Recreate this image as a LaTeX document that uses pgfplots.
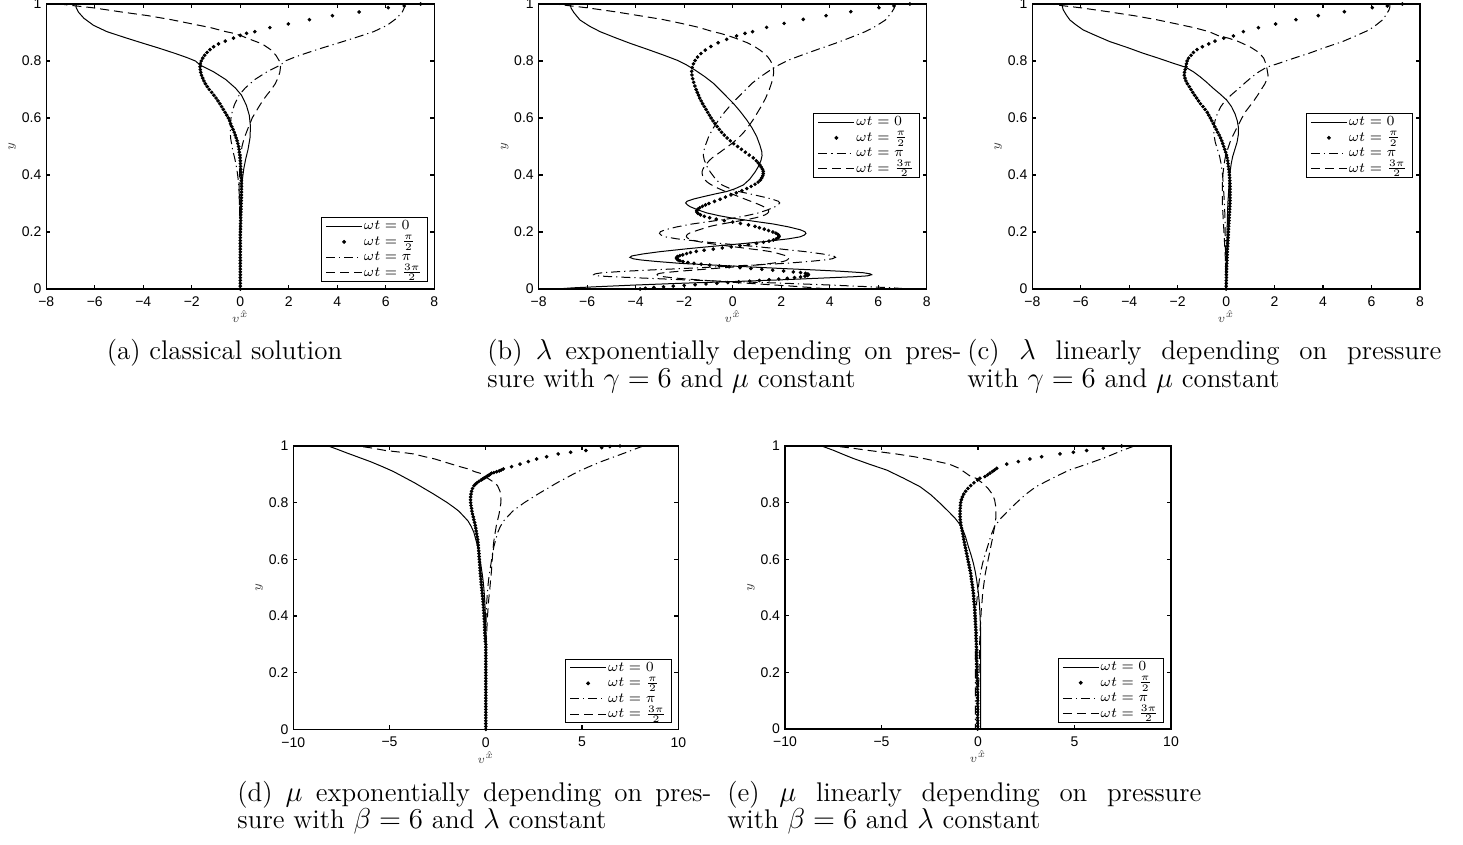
\documentclass[border=0pt]{standalone}
\usepackage{fontspec}
\usepackage{pgfplots}
\pgfplotsset{compat=1.18}
\newfontfamily\ticksf{Liberation Sans}
\newcommand\capfont{\fontsize{13.5}{13.5}\selectfont}

\pgfplotsset{
  panel/.style={
    scale only axis, clip=false, ymin=0, ymax=1,
    ytick={0,0.2,0.4,0.6,0.8,1}, yticklabels={0,0.2,0.4,0.6,0.8,1},
    tick align=inside, major tick length=2pt,
    axis line style={line width=0.6pt},
    every tick/.append style={line width=0.6pt, black},
    tick label style={font=\ticksf\fontsize{7}{7.5}\selectfont},
    xticklabel style={inner sep=0.8pt, yshift=-3pt},
    yticklabel style={inner sep=0.8pt, xshift=-1.5pt},
    xlabel={$v^{\hat{x}}$}, ylabel={$y$},
    label style={font=\fontsize{6.5}{7}\selectfont, text=black!75, inner sep=0pt},
    x label style={at={([yshift=-14pt]axis description cs:0.5,0)}, anchor=center},
    y label style={at={([xshift=-17pt]axis description cs:0,0.5)}, anchor=center},
    legend cell align=left,
    legend style={anchor=south east, draw=black, line width=0.5pt, fill=white,
      inner xsep=2pt, inner ysep=0.5pt, font=\fontsize{6.8}{7}\selectfont,
      nodes={inner sep=0.6pt, text height=5pt, text depth=1.5pt}, row sep=0pt,
      /tikz/every even column/.append style={column sep=2pt}},
    legend image code/.code={\draw[mark repeat=2,mark phase=2,##1] plot coordinates {(0pt,0pt) (9pt,0pt) (18pt,0pt)};},
    legend entries={$\omega t=0$,$\omega t=\frac{\pi}{2}$,$\omega t=\pi$,$\omega t=\frac{3\pi}{2}$},
  },
  span8/.style={xmin=-8, xmax=8, xtick={-8,-6,-4,-2,0,2,4,6,8}, xticklabels={−8,−6,−4,−2,0,2,4,6,8}},
  span10/.style={xmin=-10, xmax=10, xtick={-10,-5,0,5,10}, xticklabels={−10,−5,0,5,10}},
  curveA/.style={black, line width=0.5pt, solid, no markers},
  curveB/.style={black, only marks, mark=*, mark size=0.7pt, mark options={draw=none, fill=black}},
  curveC/.style={black, line width=0.5pt, no markers, dash pattern=on 4.5pt off 2pt on 0.6pt off 2pt},
  curveD/.style={black, line width=0.5pt, no markers, dash pattern=on 4.5pt off 2.5pt},
}

\begin{document}
\begin{tikzpicture}
\useasboundingbox (0,0) rectangle (731.5pt,-422.5pt);

% ---------------- (a) classical solution
\begin{axis}[panel, span8, at={(23.15pt,-2pt)}, anchor=north west,
  width=194pt, height=142.5pt, legend style={at={(0.983,0.025)}}]
\addplot[curveA] table {
x y
-6.75 1.000
-6.78 0.990
-6.68 0.972
-6.45 0.950
-6.05 0.925
-5.50 0.903
-4.75 0.882
-4.00 0.862
-3.35 0.845
-2.70 0.827
-2.20 0.812
-1.85 0.800
-1.66 0.786
-1.10 0.762
-0.60 0.735
-0.20 0.705
0.05 0.680
0.25 0.645
0.37 0.610
0.42 0.570
0.40 0.530
0.32 0.490
0.22 0.455
0.14 0.420
0.08 0.380
0.04 0.330
0.02 0.270
0.01 0.200
0.00 0.100
0.00 0.000
};
\addplot[curveB] table {
x y
0 0.00
0 0.01
0 0.02
0 0.03
0 0.04
0 0.05
0 0.06
0 0.07
0 0.08
0 0.09
0 0.10
0 0.11
0 0.12
0 0.13
0 0.14
0 0.15
0 0.16
0 0.17
0 0.18
0 0.19
0.005 0.20
0.008 0.21
0.010 0.22
0.012 0.23
0.015 0.24
0.018 0.25
0.020 0.26
0.025 0.27
0.030 0.28
0.032 0.29
0.035 0.30
0.040 0.31
0.045 0.32
0.048 0.33
0.050 0.34
0.050 0.35
0.050 0.36
0.048 0.37
0.045 0.38
0.040 0.39
0.035 0.40
0.028 0.41
0.020 0.42
0.010 0.43
0.005 0.44
0.000 0.45
-0.010 0.46
-0.020 0.47
-0.040 0.48
-0.050 0.49
-0.070 0.50
-0.10 0.51
-0.13 0.52
-0.17 0.53
-0.21 0.54
-0.25 0.55
-0.30 0.56
-0.35 0.57
-0.40 0.58
-0.44 0.59
-0.49 0.60
-0.56 0.61
-0.63 0.62
-0.70 0.63
-0.77 0.64
-0.84 0.65
-0.92 0.66
-1.00 0.67
-1.09 0.68
-1.18 0.69
-1.28 0.70
-1.36 0.71
-1.44 0.72
-1.50 0.73
-1.55 0.74
-1.60 0.75
-1.63 0.76
-1.65 0.77
-1.66 0.78
-1.65 0.79
-1.61 0.80
-1.55 0.81
-1.47 0.82
-1.37 0.83
-1.25 0.84
-1.10 0.85
-0.90 0.86
-0.62 0.87
-0.28 0.88
0.00 0.89
0.26 0.897
0.60 0.903
1.22 0.917
1.98 0.930
2.85 0.945
3.80 0.959
4.90 0.972
6.10 0.987
6.76 0.993
7.44 1.000
};
\addplot[curveC] table {
x y
6.75 1.000
6.78 0.990
6.68 0.972
6.45 0.950
6.05 0.925
5.50 0.903
4.75 0.882
4.00 0.862
3.35 0.845
2.70 0.827
2.20 0.812
1.85 0.800
1.66 0.786
1.10 0.762
0.60 0.735
0.20 0.705
-0.05 0.680
-0.25 0.645
-0.37 0.610
-0.42 0.570
-0.40 0.530
-0.32 0.490
-0.22 0.455
-0.14 0.420
-0.08 0.380
-0.04 0.330
-0.02 0.270
-0.01 0.200
0.00 0.100
0.00 0.000
};
\addplot[curveD] table {
x y
0 0
0 0.18
-0.005 0.20
-0.01 0.22
-0.015 0.24
-0.02 0.26
-0.03 0.28
-0.035 0.30
-0.045 0.32
-0.05 0.34
-0.05 0.36
-0.045 0.38
-0.035 0.40
-0.02 0.42
-0.005 0.44
0.01 0.46
0.04 0.48
0.07 0.50
0.13 0.52
0.21 0.54
0.30 0.56
0.40 0.58
0.49 0.60
0.63 0.62
0.77 0.64
0.92 0.66
1.09 0.68
1.28 0.70
1.44 0.72
1.55 0.74
1.63 0.76
1.66 0.78
1.61 0.80
1.47 0.82
1.25 0.84
0.90 0.86
0.28 0.88
0.00 0.89
-0.26 0.897
-0.60 0.903
-1.22 0.917
-1.98 0.930
-2.85 0.945
-3.80 0.959
-4.90 0.972
-6.10 0.987
-6.76 0.993
-7.44 1.000
};
\end{axis}

% ---------------- (b) lambda exponential
\begin{axis}[panel, span8, at={(269.35pt,-2pt)}, anchor=north west,
  width=194pt, height=142.5pt, legend style={at={(0.983,0.39)}}]
\addplot[curveA] table {
x y
-6.71 1.000
-6.66 0.985
-6.55 0.970
-6.30 0.944
-5.90 0.922
-5.47 0.903
-4.85 0.882
-4.23 0.862
-3.55 0.842
-2.86 0.821
-2.30 0.803
-1.90 0.786
-1.55 0.768
-1.15 0.745
-0.80 0.722
-0.40 0.688
0.03 0.651
0.32 0.622
0.58 0.593
0.80 0.565
0.99 0.535
1.12 0.505
1.20 0.482
1.21 0.468
1.17 0.452
1.06 0.430
0.92 0.410
0.70 0.385
0.44 0.365
0.10 0.352
-0.25 0.342
-0.75 0.333
-1.21 0.324
-1.60 0.316
-1.88 0.308
-1.94 0.302
-1.88 0.296
-1.76 0.289
-1.45 0.278
-1.07 0.267
-0.55 0.257
0.03 0.248
0.85 0.238
1.68 0.228
2.30 0.218
2.78 0.208
2.98 0.201
3.02 0.195
2.95 0.189
2.78 0.183
2.30 0.176
1.26 0.166
0.25 0.158
-0.80 0.150
-1.90 0.141
-3.00 0.131
-3.70 0.123
-4.16 0.116
-4.24 0.111
-4.10 0.106
-3.80 0.102
-3.20 0.097
-2.17 0.090
-0.80 0.084
0.58 0.078
2.00 0.072
3.33 0.067
4.50 0.062
5.39 0.057
5.68 0.053
5.73 0.050
5.55 0.046
4.98 0.043
3.60 0.038
1.95 0.032
0.00 0.026
-2.17 0.020
-4.00 0.014
-5.60 0.008
-6.60 0.004
-7.26 0.000
};
\addplot[curveB] table {
x y
-3.82 0.0000
-3.60 0.0025
-3.25 0.0050
-2.85 0.0075
-2.45 0.0100
-2.00 0.0125
-1.55 0.0150
-1.10 0.0175
-0.65 0.0200
-0.20 0.0225
0.25 0.0250
0.70 0.0275
1.10 0.0300
1.50 0.0325
1.90 0.0350
2.25 0.0375
2.55 0.0400
2.80 0.0425
2.98 0.0450
3.08 0.0475
3.12 0.0500
3.10 0.0525
3.00 0.0550
2.80 0.0575
2.50 0.0600
2.10 0.0630
1.65 0.0660
1.20 0.0690
0.75 0.0720
0.30 0.0750
-0.15 0.0780
-0.55 0.0810
-0.95 0.0840
-1.30 0.0870
-1.60 0.0900
-1.85 0.0930
-2.05 0.0960
-2.18 0.0990
-2.25 0.1020
-2.29 0.1050
-2.31 0.1080
-2.31 0.1110
-2.27 0.1140
-2.18 0.1170
-2.06 0.1200
-1.90 0.1240
-1.74 0.1280
-1.50 0.1320
-1.18 0.1360
-0.80 0.1400
-0.43 0.1440
-0.06 0.1480
0.30 0.1520
0.65 0.1560
0.98 0.1600
1.27 0.1640
1.50 0.1680
1.68 0.1720
1.80 0.1760
1.88 0.1800
1.91 0.1840
1.90 0.1880
1.86 0.1920
1.78 0.1960
1.66 0.2000
1.48 0.2050
1.30 0.2100
1.10 0.2150
0.92 0.2200
0.65 0.2250
0.32 0.2300
0.00 0.2350
-0.35 0.2400
-0.68 0.2450
-0.95 0.2500
-1.17 0.2550
-1.33 0.2600
-1.43 0.2650
-1.48 0.2700
-1.48 0.2750
-1.44 0.2800
-1.36 0.2850
-1.25 0.2900
-1.12 0.2950
-0.98 0.3000
-0.75 0.3075
-0.52 0.3150
-0.30 0.3225
-0.07 0.3300
0.15 0.3375
0.38 0.3450
0.58 0.3525
0.76 0.3600
0.92 0.3675
1.05 0.3750
1.14 0.3825
1.20 0.3900
1.24 0.3975
1.26 0.4050
1.26 0.4125
1.23 0.4200
1.18 0.4275
1.12 0.4350
1.05 0.4425
0.97 0.4500
0.85 0.4600
0.68 0.4700
0.52 0.4800
0.36 0.4900
0.20 0.5000
0.04 0.5100
-0.10 0.5200
-0.23 0.5300
-0.35 0.5400
-0.46 0.5500
-0.55 0.5600
-0.64 0.5700
-0.73 0.5800
-0.81 0.5900
-0.89 0.6000
-0.96 0.6100
-1.03 0.6200
-1.10 0.6300
-1.17 0.6400
-1.24 0.6500
-1.30 0.6600
-1.36 0.6700
-1.41 0.6800
-1.46 0.6900
-1.51 0.7000
-1.56 0.7120
-1.61 0.7250
-1.65 0.7380
-1.68 0.7510
-1.69 0.7640
-1.67 0.7770
-1.62 0.7900
-1.55 0.8020
-1.45 0.8140
-1.31 0.8260
-1.13 0.8380
-0.90 0.8510
-0.60 0.8640
-0.25 0.8760
0.16 0.8880
0.51 0.8970
0.82 0.9030
1.40 0.9180
2.12 0.9320
2.91 0.9460
3.85 0.9590
4.87 0.9730
6.03 0.9870
6.65 0.9930
7.31 1.0000
};
\addplot[curveC] table {
x y
6.71 1.000
6.66 0.985
6.55 0.970
6.30 0.944
5.90 0.922
5.47 0.903
4.85 0.882
4.23 0.862
3.55 0.842
2.86 0.821
2.30 0.803
1.90 0.786
1.55 0.768
1.15 0.745
0.80 0.722
0.40 0.688
-0.03 0.651
-0.32 0.622
-0.58 0.593
-0.80 0.565
-0.99 0.535
-1.12 0.505
-1.20 0.482
-1.21 0.468
-1.17 0.452
-1.06 0.430
-0.92 0.410
-0.70 0.385
-0.44 0.365
-0.10 0.352
0.25 0.342
0.75 0.333
1.21 0.324
1.60 0.316
1.88 0.308
1.94 0.302
1.88 0.296
1.76 0.289
1.45 0.278
1.07 0.267
0.55 0.257
-0.03 0.248
-0.85 0.238
-1.68 0.228
-2.30 0.218
-2.78 0.208
-2.98 0.201
-3.02 0.195
-2.95 0.189
-2.78 0.183
-2.30 0.176
-1.26 0.166
-0.25 0.158
0.80 0.150
1.90 0.141
3.00 0.131
3.70 0.123
4.16 0.116
4.24 0.111
4.10 0.106
3.80 0.102
3.20 0.097
2.17 0.090
0.80 0.084
-0.58 0.078
-2.00 0.072
-3.33 0.067
-4.50 0.062
-5.39 0.057
-5.68 0.053
-5.73 0.050
-5.55 0.046
-4.98 0.043
-3.60 0.038
-1.95 0.032
0.00 0.026
2.17 0.020
4.00 0.014
5.60 0.008
6.60 0.004
7.26 0.000
};
\addplot[curveD] table {
x y
3.82 0.0000
3.60 0.0025
3.25 0.0050
2.85 0.0075
2.45 0.0100
2.00 0.0125
1.55 0.0150
1.10 0.0175
0.65 0.0200
0.20 0.0225
-0.25 0.0250
-0.70 0.0275
-1.10 0.0300
-1.50 0.0325
-1.90 0.0350
-2.25 0.0375
-2.55 0.0400
-2.80 0.0425
-2.98 0.0450
-3.08 0.0475
-3.12 0.0500
-3.10 0.0525
-3.00 0.0550
-2.80 0.0575
-2.50 0.0600
-2.10 0.0630
-1.65 0.0660
-1.20 0.0690
-0.75 0.0720
-0.30 0.0750
0.15 0.0780
0.55 0.0810
0.95 0.0840
1.30 0.0870
1.60 0.0900
1.85 0.0930
2.05 0.0960
2.18 0.0990
2.25 0.1020
2.29 0.1050
2.31 0.1080
2.31 0.1110
2.27 0.1140
2.18 0.1170
2.06 0.1200
1.90 0.1240
1.74 0.1280
1.50 0.1320
1.18 0.1360
0.80 0.1400
0.43 0.1440
0.06 0.1480
-0.30 0.1520
-0.65 0.1560
-0.98 0.1600
-1.27 0.1640
-1.50 0.1680
-1.68 0.1720
-1.80 0.1760
-1.88 0.1800
-1.91 0.1840
-1.90 0.1880
-1.86 0.1920
-1.78 0.1960
-1.66 0.2000
-1.48 0.2050
-1.30 0.2100
-1.10 0.2150
-0.92 0.2200
-0.65 0.2250
-0.32 0.2300
0.00 0.2350
0.35 0.2400
0.68 0.2450
0.95 0.2500
1.17 0.2550
1.33 0.2600
1.43 0.2650
1.48 0.2700
1.48 0.2750
1.44 0.2800
1.36 0.2850
1.25 0.2900
1.12 0.2950
0.98 0.3000
0.75 0.3075
0.52 0.3150
0.30 0.3225
0.07 0.3300
-0.15 0.3375
-0.38 0.3450
-0.58 0.3525
-0.76 0.3600
-0.92 0.3675
-1.05 0.3750
-1.14 0.3825
-1.20 0.3900
-1.24 0.3975
-1.26 0.4050
-1.26 0.4125
-1.23 0.4200
-1.18 0.4275
-1.12 0.4350
-1.05 0.4425
-0.97 0.4500
-0.85 0.4600
-0.68 0.4700
-0.52 0.4800
-0.36 0.4900
-0.20 0.5000
-0.04 0.5100
0.10 0.5200
0.23 0.5300
0.35 0.5400
0.46 0.5500
0.55 0.5600
0.64 0.5700
0.73 0.5800
0.81 0.5900
0.89 0.6000
0.96 0.6100
1.03 0.6200
1.10 0.6300
1.17 0.6400
1.24 0.6500
1.30 0.6600
1.36 0.6700
1.41 0.6800
1.46 0.6900
1.51 0.7000
1.56 0.7120
1.61 0.7250
1.65 0.7380
1.68 0.7510
1.69 0.7640
1.67 0.7770
1.62 0.7900
1.55 0.8020
1.45 0.8140
1.31 0.8260
1.13 0.8380
0.90 0.8510
0.60 0.8640
0.25 0.8760
-0.16 0.8880
-0.51 0.8970
-0.82 0.9030
-1.40 0.9180
-2.12 0.9320
-2.91 0.9460
-3.85 0.9590
-4.87 0.9730
-6.03 0.9870
-6.65 0.9930
-7.31 1.0000
};
\end{axis}

% ---------------- (c) lambda linear
\begin{axis}[panel, span8, at={(516.15pt,-2pt)}, anchor=north west,
  width=193.85pt, height=142.5pt, legend style={at={(0.981,0.39)}}]
\addplot[curveA] table {
x y
-6.76 1.000
-6.76 0.990
-6.72 0.979
-6.60 0.962
-6.45 0.944
-6.20 0.927
-5.90 0.909
-5.40 0.890
-4.80 0.868
-4.10 0.848
-3.42 0.827
-2.80 0.810
-2.18 0.792
-1.67 0.778
-1.35 0.762
-1.08 0.745
-0.80 0.725
-0.53 0.704
-0.25 0.684
0.02 0.663
0.22 0.640
0.36 0.616
0.46 0.590
0.51 0.565
0.50 0.540
0.45 0.515
0.36 0.490
0.27 0.465
0.21 0.440
0.16 0.410
0.13 0.380
0.10 0.340
0.07 0.300
0.05 0.250
0.04 0.200
0.02 0.100
0.02 0.000
};
\addplot[curveB] table {
x y
0.000 0.00
0.000 0.01
0.005 0.02
0.005 0.03
0.010 0.04
0.010 0.05
0.015 0.06
0.020 0.07
0.020 0.08
0.025 0.09
0.030 0.10
0.035 0.11
0.040 0.12
0.045 0.13
0.050 0.14
0.060 0.15
0.065 0.16
0.070 0.17
0.080 0.18
0.085 0.19
0.090 0.20
0.100 0.21
0.105 0.22
0.110 0.23
0.120 0.24
0.125 0.25
0.130 0.26
0.140 0.27
0.145 0.28
0.150 0.29
0.155 0.30
0.160 0.31
0.160 0.32
0.160 0.33
0.160 0.34
0.160 0.35
0.160 0.36
0.155 0.37
0.150 0.38
0.145 0.39
0.135 0.40
0.125 0.41
0.110 0.42
0.095 0.43
0.080 0.44
0.065 0.45
0.040 0.46
0.015 0.47
-0.02 0.48
-0.06 0.49
-0.10 0.50
-0.14 0.51
-0.18 0.52
-0.23 0.53
-0.29 0.54
-0.35 0.55
-0.41 0.56
-0.47 0.57
-0.53 0.58
-0.59 0.59
-0.65 0.60
-0.72 0.61
-0.78 0.62
-0.87 0.63
-0.96 0.64
-1.06 0.65
-1.14 0.66
-1.22 0.67
-1.30 0.68
-1.38 0.69
-1.45 0.70
-1.52 0.71
-1.60 0.72
-1.66 0.73
-1.70 0.74
-1.73 0.75
-1.72 0.76
-1.69 0.77
-1.66 0.78
-1.64 0.79
-1.61 0.80
-1.55 0.81
-1.45 0.82
-1.35 0.83
-1.20 0.84
-0.98 0.85
-0.72 0.86
-0.46 0.87
-0.10 0.88
0.30 0.888
0.71 0.903
1.33 0.917
2.04 0.930
2.88 0.945
3.80 0.959
4.88 0.973
6.03 0.987
6.65 0.993
7.27 1.000
};
\addplot[curveC] table {
x y
6.76 1.000
6.76 0.990
6.72 0.979
6.60 0.962
6.45 0.944
6.20 0.927
5.90 0.909
5.40 0.890
4.80 0.868
4.10 0.848
3.42 0.827
2.80 0.810
2.18 0.792
1.67 0.778
1.35 0.762
1.08 0.745
0.80 0.725
0.53 0.704
0.25 0.684
-0.02 0.663
-0.22 0.640
-0.36 0.616
-0.46 0.590
-0.51 0.565
-0.50 0.540
-0.45 0.515
-0.36 0.490
-0.27 0.465
-0.21 0.440
-0.16 0.410
-0.13 0.380
-0.10 0.340
-0.07 0.300
-0.05 0.250
-0.04 0.200
-0.02 0.100
-0.02 0.000
};
\addplot[curveD] table {
x y
0 0
-0.01 0.04
-0.02 0.07
-0.03 0.10
-0.04 0.12
-0.05 0.14
-0.065 0.16
-0.08 0.18
-0.09 0.20
-0.105 0.22
-0.12 0.24
-0.13 0.26
-0.145 0.28
-0.155 0.30
-0.16 0.32
-0.16 0.36
-0.15 0.38
-0.135 0.40
-0.11 0.42
-0.08 0.44
-0.04 0.46
0.02 0.48
0.10 0.50
0.18 0.52
0.29 0.54
0.41 0.56
0.53 0.58
0.65 0.60
0.78 0.62
0.96 0.64
1.14 0.66
1.30 0.68
1.45 0.70
1.60 0.72
1.70 0.74
1.73 0.75
1.69 0.77
1.64 0.79
1.55 0.81
1.35 0.83
0.98 0.85
0.46 0.87
0.10 0.88
-0.30 0.888
-0.71 0.903
-1.33 0.917
-2.04 0.930
-2.88 0.945
-3.80 0.959
-4.88 0.973
-6.03 0.987
-6.65 0.993
-7.27 1.000
};
\end{axis}

% ---------------- (d) mu exponential
\begin{axis}[panel, span10, at={(146.65pt,-223pt)}, anchor=north west,
  width=192.5pt, height=141.65pt, legend style={at={(0.983,0.021)}}]
\addplot[curveA] table {
x y
-8.18 1.000
-7.70 0.988
-7.20 0.975
-6.60 0.960
-6.00 0.945
-5.40 0.928
-4.80 0.910
-4.25 0.890
-3.70 0.870
-3.20 0.850
-2.75 0.832
-2.35 0.815
-2.00 0.800
-1.65 0.783
-1.40 0.770
-1.15 0.752
-0.92 0.735
-0.75 0.715
-0.62 0.695
-0.52 0.670
-0.42 0.645
-0.34 0.615
-0.27 0.585
-0.20 0.555
-0.14 0.525
-0.09 0.490
-0.05 0.450
-0.02 0.400
0.00 0.330
0.00 0.000
};
\addplot[curveB] table {
x y
0 0.00
0 0.01
0 0.02
0 0.03
0 0.04
0 0.05
0 0.06
0 0.07
0 0.08
0 0.09
0 0.10
0 0.11
0 0.12
0 0.13
0 0.14
0 0.15
0 0.16
0 0.17
0 0.18
0 0.19
0 0.20
0 0.21
0 0.22
0 0.23
0 0.24
0 0.25
0 0.26
0 0.27
0 0.28
0 0.29
0 0.30
-0.02 0.31
-0.03 0.32
-0.04 0.33
-0.05 0.34
-0.055 0.35
-0.06 0.36
-0.065 0.37
-0.07 0.38
-0.08 0.39
-0.09 0.40
-0.10 0.41
-0.11 0.42
-0.12 0.43
-0.13 0.44
-0.14 0.45
-0.155 0.46
-0.17 0.47
-0.185 0.48
-0.20 0.49
-0.215 0.50
-0.23 0.51
-0.24 0.52
-0.255 0.53
-0.27 0.54
-0.28 0.55
-0.295 0.56
-0.305 0.57
-0.315 0.58
-0.325 0.59
-0.335 0.60
-0.345 0.61
-0.355 0.62
-0.365 0.63
-0.38 0.64
-0.395 0.65
-0.41 0.66
-0.425 0.67
-0.45 0.68
-0.475 0.69
-0.50 0.70
-0.52 0.71
-0.55 0.72
-0.58 0.73
-0.62 0.74
-0.65 0.75
-0.69 0.76
-0.72 0.77
-0.74 0.78
-0.77 0.79
-0.785 0.80
-0.79 0.81
-0.785 0.82
-0.77 0.83
-0.74 0.84
-0.69 0.85
-0.61 0.86
-0.54 0.865
-0.46 0.87
-0.36 0.875
-0.24 0.88
-0.17 0.883
-0.10 0.886
-0.03 0.889
0.04 0.892
0.11 0.895
0.18 0.898
0.24 0.901
0.30 0.904
0.42 0.906
0.56 0.909
0.70 0.912
0.80 0.915
0.91 0.919
1.34 0.927
1.78 0.936
2.21 0.945
2.64 0.954
3.16 0.962
3.76 0.972
4.41 0.978
5.20 0.984
6.02 0.994
6.45 0.998
6.97 1.000
};
\addplot[curveC] table {
x y
8.18 1.000
7.70 0.988
7.20 0.975
6.60 0.960
6.00 0.945
5.40 0.928
4.80 0.910
4.25 0.890
3.70 0.870
3.20 0.850
2.75 0.832
2.35 0.815
2.00 0.800
1.65 0.783
1.40 0.770
1.15 0.752
0.92 0.735
0.75 0.715
0.62 0.695
0.52 0.670
0.42 0.645
0.34 0.615
0.27 0.585
0.20 0.555
0.14 0.525
0.09 0.490
0.05 0.450
0.02 0.400
0.00 0.330
0.00 0.000
};
\addplot[curveD] table {
x y
0 0
0 0.30
0.03 0.32
0.05 0.34
0.06 0.36
0.07 0.38
0.09 0.40
0.11 0.42
0.13 0.44
0.155 0.46
0.185 0.48
0.215 0.50
0.24 0.52
0.27 0.54
0.295 0.56
0.315 0.58
0.335 0.60
0.355 0.62
0.38 0.64
0.41 0.66
0.45 0.68
0.50 0.70
0.55 0.72
0.62 0.74
0.69 0.76
0.74 0.78
0.785 0.80
0.79 0.81
0.785 0.82
0.74 0.84
0.61 0.86
0.46 0.87
0.24 0.88
0.10 0.886
-0.04 0.892
-0.18 0.898
-0.30 0.904
-0.56 0.909
-0.91 0.919
-1.34 0.927
-1.78 0.936
-2.21 0.945
-2.64 0.954
-3.16 0.962
-3.76 0.972
-4.41 0.978
-5.20 0.984
-6.02 0.994
-6.45 0.998
-6.97 1.000
};
\end{axis}

% ---------------- (e) mu linear
\begin{axis}[panel, span10, at={(392.5pt,-223pt)}, anchor=north west,
  width=193pt, height=141.5pt, legend style={at={(0.983,0.022)}}]
\addplot[curveA] table {
x y
-8.10 1.000
-7.50 0.985
-6.90 0.968
-6.46 0.956
-5.60 0.935
-4.73 0.915
-3.85 0.886
-3.00 0.856
-2.45 0.828
-1.97 0.798
-1.55 0.770
-1.19 0.745
-0.85 0.715
-0.65 0.680
-0.50 0.645
-0.36 0.615
-0.24 0.586
-0.14 0.555
-0.07 0.527
0.02 0.480
0.07 0.445
0.10 0.409
0.13 0.360
0.14 0.327
0.14 0.200
0.14 0.000
};
\addplot[curveB] table {
x y
-0.02 0.00
-0.02 0.01
-0.02 0.02
-0.02 0.03
-0.02 0.04
-0.02 0.05
-0.02 0.06
-0.02 0.07
-0.02 0.08
-0.02 0.09
-0.02 0.10
-0.025 0.11
-0.025 0.12
-0.025 0.13
-0.03 0.14
-0.03 0.15
-0.035 0.16
-0.04 0.17
-0.045 0.18
-0.05 0.19
-0.055 0.20
-0.06 0.21
-0.06 0.22
-0.065 0.23
-0.065 0.24
-0.07 0.25
-0.07 0.26
-0.07 0.27
-0.075 0.28
-0.08 0.29
-0.085 0.30
-0.09 0.31
-0.095 0.32
-0.10 0.33
-0.10 0.34
-0.11 0.35
-0.12 0.36
-0.13 0.37
-0.135 0.38
-0.145 0.39
-0.155 0.40
-0.16 0.41
-0.17 0.42
-0.18 0.43
-0.19 0.44
-0.21 0.45
-0.22 0.46
-0.23 0.47
-0.24 0.48
-0.26 0.49
-0.28 0.50
-0.30 0.51
-0.32 0.52
-0.34 0.53
-0.36 0.54
-0.38 0.55
-0.41 0.56
-0.44 0.57
-0.47 0.58
-0.50 0.59
-0.53 0.60
-0.56 0.61
-0.59 0.62
-0.62 0.63
-0.65 0.64
-0.68 0.65
-0.71 0.66
-0.74 0.67
-0.76 0.68
-0.79 0.69
-0.82 0.70
-0.85 0.71
-0.88 0.72
-0.90 0.73
-0.92 0.74
-0.93 0.75
-0.93 0.76
-0.93 0.77
-0.92 0.78
-0.91 0.79
-0.90 0.80
-0.86 0.81
-0.81 0.82
-0.74 0.83
-0.64 0.84
-0.52 0.85
-0.38 0.86
-0.21 0.87
-0.02 0.88
0.10 0.886
0.36 0.892
0.50 0.898
0.62 0.904
0.75 0.910
0.85 0.915
0.97 0.921
1.49 0.936
2.09 0.945
2.69 0.954
3.30 0.962
4.25 0.972
4.94 0.978
5.63 0.984
6.49 0.992
7.44 1.000
};
\addplot[curveC] table {
x y
8.10 1.000
7.50 0.985
6.90 0.968
6.46 0.956
5.60 0.935
4.73 0.915
3.85 0.886
3.00 0.856
2.45 0.828
1.97 0.798
1.55 0.770
1.19 0.745
0.85 0.715
0.65 0.680
0.50 0.645
0.36 0.615
0.24 0.586
0.14 0.555
0.07 0.527
-0.02 0.480
-0.07 0.445
-0.10 0.409
-0.13 0.360
-0.14 0.327
-0.14 0.200
-0.14 0.000
};
\addplot[curveD] table {
x y
0.02 0.00
0.02 0.10
0.03 0.15
0.04 0.17
0.05 0.19
0.06 0.21
0.065 0.23
0.07 0.25
0.07 0.27
0.08 0.29
0.09 0.31
0.10 0.33
0.11 0.35
0.13 0.37
0.145 0.39
0.16 0.41
0.18 0.43
0.21 0.45
0.23 0.47
0.26 0.49
0.30 0.51
0.34 0.53
0.38 0.55
0.44 0.57
0.50 0.59
0.56 0.61
0.62 0.63
0.68 0.65
0.74 0.67
0.79 0.69
0.85 0.71
0.90 0.73
0.93 0.75
0.93 0.77
0.91 0.79
0.86 0.81
0.74 0.83
0.52 0.85
0.21 0.87
0.02 0.88
-0.10 0.886
-0.36 0.892
-0.50 0.898
-0.62 0.904
-0.75 0.910
-0.97 0.921
-1.49 0.936
-2.09 0.945
-2.69 0.954
-3.30 0.962
-4.25 0.972
-4.94 0.978
-5.63 0.984
-6.49 0.992
-7.44 1.000
};
\end{axis}

% ---------------- captions
\node[anchor=base, inner sep=0pt] at (112.25pt,-180pt) {\capfont (a) classical solution};
\node[anchor=base west, inner sep=0pt] at (243.5pt,-180pt) {\parbox[t]{237pt}{\capfont (b) $\lambda$ exponentially depending on pres-\linebreak sure with $\gamma=6$ and $\mu$ constant}};
\node[anchor=base west, inner sep=0pt] at (483.5pt,-180pt) {\parbox[t]{237pt}{\capfont (c) $\lambda$ linearly depending on pressure\linebreak with $\gamma=6$ and $\mu$ constant}};
\node[anchor=base west, inner sep=0pt] at (118.5pt,-400.5pt) {\parbox[t]{237pt}{\capfont (d) $\mu$ exponentially depending on pres-\linebreak sure with $\beta=6$ and $\lambda$ constant}};
\node[anchor=base west, inner sep=0pt] at (363.5pt,-400.5pt) {\parbox[t]{237pt}{\capfont (e) $\mu$ linearly depending on pressure\linebreak with $\beta=6$ and $\lambda$ constant}};
\end{tikzpicture}
\end{document}
